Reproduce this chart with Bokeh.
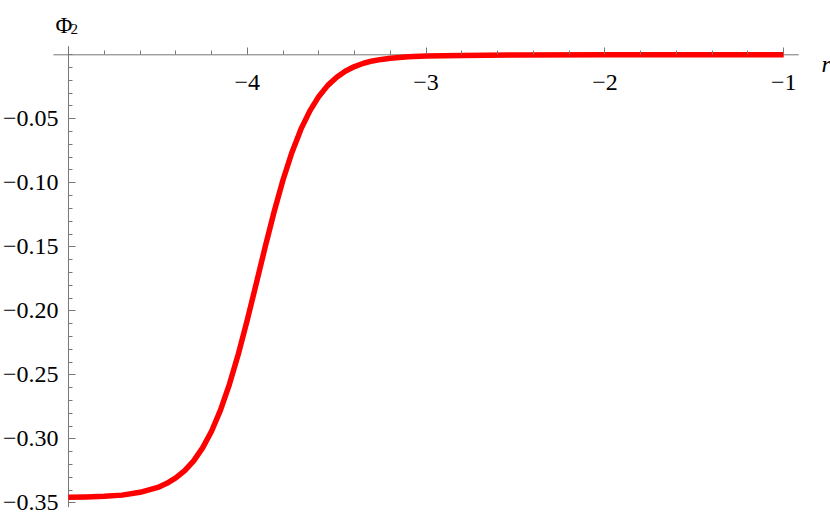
from bokeh.plotting import figure
from bokeh.models import Range1d, FixedTicker, Label
from bokeh.embed import file_html
from bokeh.resources import INLINE

# curve values
r_vals = [-5.00, -4.90, -4.80, -4.70, -4.60, -4.50, -4.45, -4.40, -4.35, -4.30,
          -4.25, -4.20, -4.15, -4.10, -4.05, -4.00, -3.95, -3.90, -3.85, -3.80,
          -3.75, -3.70, -3.65, -3.60, -3.55, -3.50, -3.45, -3.40, -3.35, -3.30,
          -3.25, -3.20, -3.10, -3.00, -2.80, -2.50, -2.00, -1.50, -1.00]
phi_vals = [-0.3457, -0.3454, -0.3449, -0.3440, -0.3418, -0.3380, -0.3348, -0.3306, -0.3249, -0.3172,
            -0.3071, -0.2941, -0.2776, -0.2574, -0.2338, -0.2071, -0.1788, -0.1501, -0.1226, -0.0976,
            -0.0761, -0.0581, -0.0438, -0.0325, -0.0239, -0.0175, -0.0127, -0.0092, -0.0066, -0.0048,
            -0.0036, -0.0027, -0.0016, -0.0010, -0.0005, -0.0002, 0.0, 0.0, 0.0]

x_ticks = [-4, -3, -2, -1]
x_tick_labels = ["\u22124", "\u22123", "\u22122", "\u22121"]
x_minor = [-5.0, -4.8, -4.6, -4.4, -4.2, -3.8, -3.6, -3.4, -3.2, -2.8, -2.6, -2.4, -2.2,
           -1.8, -1.6, -1.4, -1.2]
y_ticks = [-0.35, -0.30, -0.25, -0.20, -0.15, -0.10, -0.05]
y_tick_labels = ["\u22120.35", "\u22120.30", "\u22120.25", "\u22120.20", "\u22120.15", "\u22120.10", "\u22120.05"]
y_minor = [round(-0.35 + 0.01 * i, 2) for i in range(36)]

# axis extents (Mathematica-style crossing axes)
x_axis_span = [-5.084, -0.916]
y_axis_span = [-0.3534, 0.0067]
x_origin = -5.0
y_origin = 0.0

p = figure(width=830, height=516, output_backend="svg", toolbar_location=None,
           x_range=Range1d(-5.3803, -0.7383), y_range=Range1d(-0.3607, 0.04242),
           min_border=0, min_border_left=0, min_border_right=0,
           min_border_top=0, min_border_bottom=0)
p.outline_line_color = None
p.grid.visible = False
p.background_fill_color = "white"
p.border_fill_color = "white"

axis_color = "#777777"
font = "'Liberation Serif', 'Times New Roman', serif"

# axis lines
p.segment(x0=[x_axis_span[0]], y0=[y_origin], x1=[x_axis_span[1]], y1=[y_origin],
          line_color=axis_color, line_width=1)
p.segment(x0=[x_origin], y0=[y_axis_span[0]], x1=[x_origin], y1=[y_axis_span[1]],
          line_color=axis_color, line_width=1)

p.line(r_vals, phi_vals, line_color="#ff0000", line_width=5.5, line_join="round", line_cap="butt")

xa = p.xaxis[0]
xa.fixed_location = y_origin
xa.ticker = FixedTicker(ticks=x_ticks, minor_ticks=x_minor)
xa.major_label_overrides = dict(zip(x_ticks, x_tick_labels))
ya = p.yaxis[0]
ya.fixed_location = x_origin
ya.ticker = FixedTicker(ticks=y_ticks, minor_ticks=y_minor)
ya.major_label_overrides = dict(zip(y_ticks, y_tick_labels))

for ax in (xa, ya):
    ax.axis_line_color = None
    ax.major_tick_line_color = axis_color
    ax.minor_tick_line_color = axis_color
    ax.major_tick_in = 7
    ax.major_tick_out = 0
    ax.minor_tick_in = 4
    ax.minor_tick_out = 0
    ax.major_label_text_font = font
    ax.major_label_text_font_size = "24px"
    ax.major_label_text_color = "black"
xa.major_label_standoff = 20
ya.major_label_standoff = 10

p.add_layout(Label(x=-5.0727, y=0.0229, text="\u03a6", text_font=font, text_font_size="23px",
                   text_color="black", text_baseline="alphabetic"))
p.add_layout(Label(x=-4.989, y=0.0205, text="2", text_font=font, text_font_size="15px",
                   text_color="black", text_baseline="alphabetic"))
p.add_layout(Label(x=-0.7886, y=-0.0070, text="r", text_font=font, text_font_size="24px",
                   text_font_style="italic", text_color="black", text_baseline="alphabetic"))

open("out.html", "w").write(file_html(p, INLINE))
